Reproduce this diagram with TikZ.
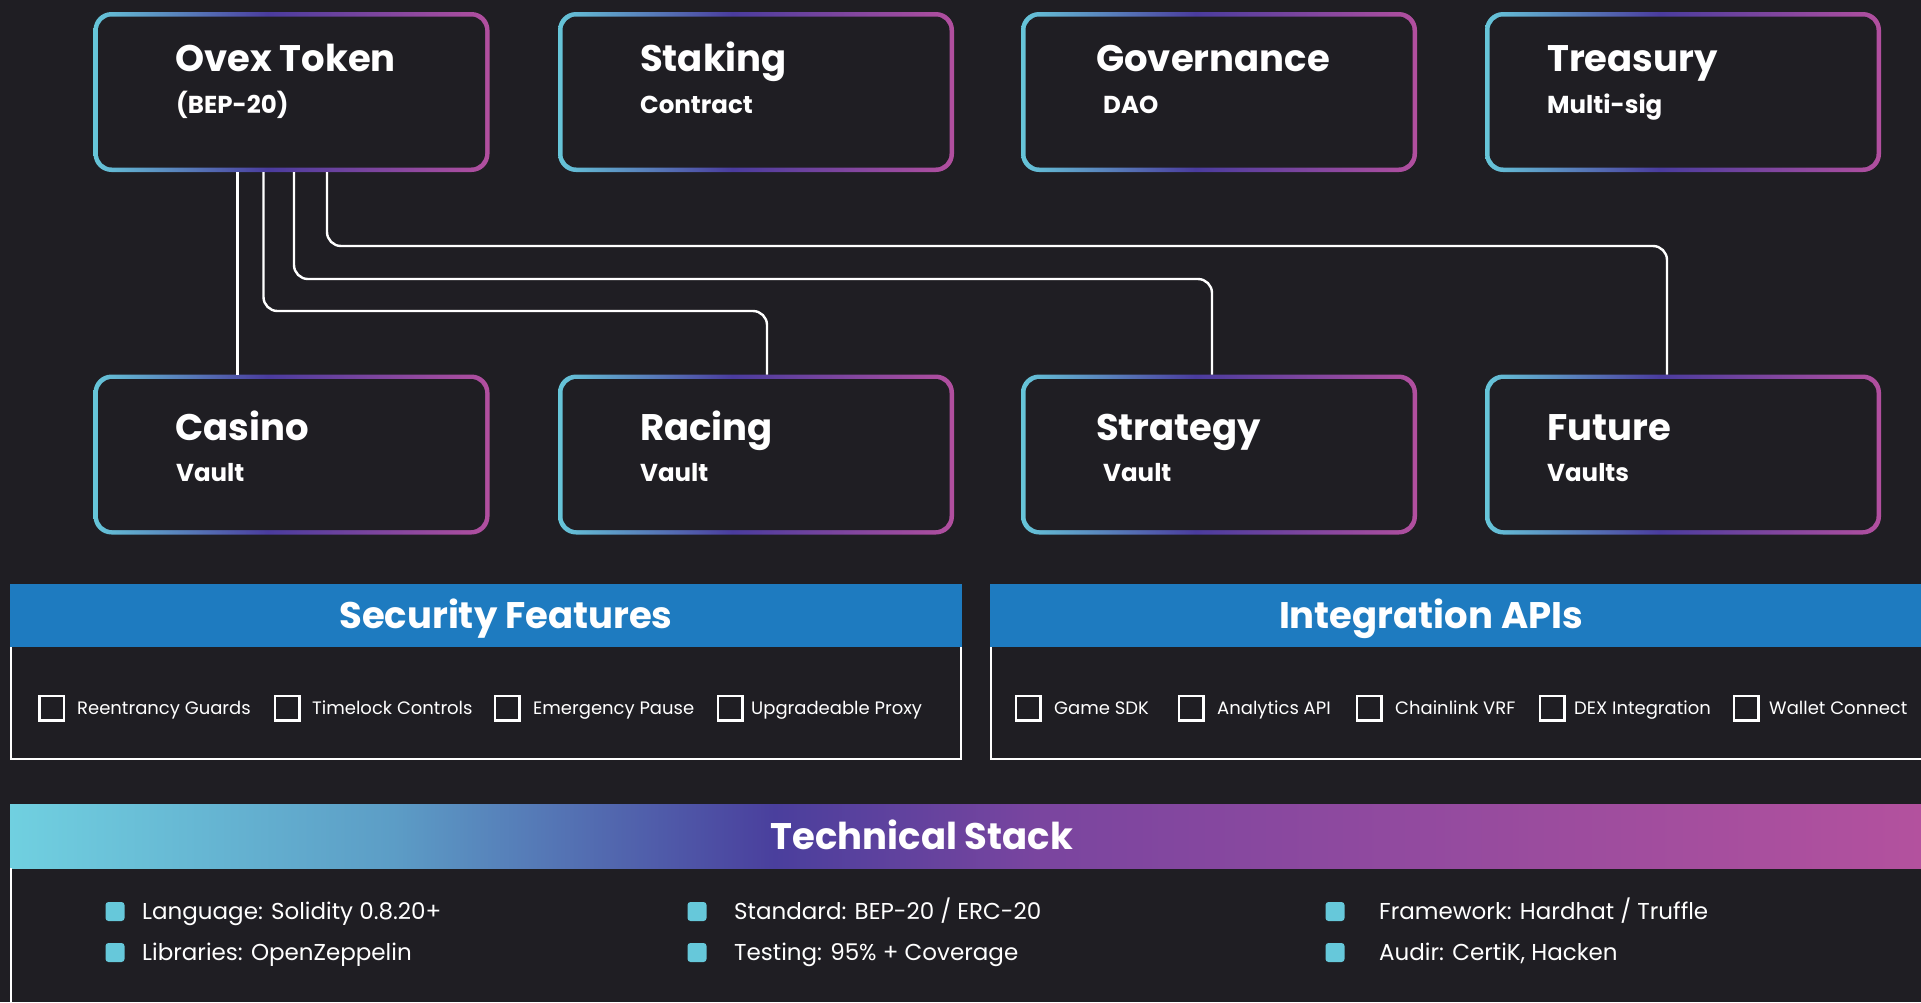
\documentclass[tikz,border=0pt]{standalone}
\usepackage{fontspec}
\setmainfont{Poppins}
\usetikzlibrary{positioning,calc}
\definecolor{bgdark}{HTML}{1F1E23}
\definecolor{rimcyan}{HTML}{66C6D9}
\definecolor{rimindigo}{HTML}{4A3C9E}
\definecolor{rimpink}{HTML}{B24F9F}
\definecolor{hdrblue}{HTML}{1E7BC0}
\definecolor{dotcyan}{HTML}{66C8DA}
\definecolor{stA}{HTML}{70D0E0}
\definecolor{stB}{HTML}{5C9DC6}
\definecolor{stC}{HTML}{4A3F9D}
\definecolor{stD}{HTML}{7A459F}
\definecolor{stE}{HTML}{B3519E}
\pgfdeclarehorizontalshading{rimfade}{100bp}{color(0bp)=(rimcyan); color(25bp)=(rimcyan); color(47bp)=(rimindigo); color(75bp)=(rimpink); color(100bp)=(rimpink)}
\pgfdeclarehorizontalshading{stackfade}{100bp}{color(0bp)=(stA); color(25bp)=(stA); color(35bp)=(stB); color(45bp)=(stC); color(52bp)=(stD); color(75bp)=(stE); color(100bp)=(stE)}
\tikzset{>=latex}

\begin{document}
\begin{tikzpicture}[x=1pt,y=-1pt,
  vbox/.style={rectangle, rounded corners=18pt, minimum width=396pt, minimum height=160pt, inner sep=0pt, outer sep=0pt,
    path picture={\shade[shading=rimfade] (path picture bounding box.south west) rectangle (path picture bounding box.north east);
      \fill[bgdark, rounded corners=14pt] ([shift={(4.5pt,4.5pt)}]path picture bounding box.south west) rectangle ([shift={(-4.5pt,-4.5pt)}]path picture bounding box.north east);}},
  ttl/.style={anchor=base west, text=white, font=\fontsize{37}{41}\selectfont\bfseries, inner sep=0pt},
  sub/.style={anchor=base west, text=white, font=\fontsize{24.5}{28}\selectfont\bfseries, inner sep=0pt},
  link/.style={draw=white, line width=2.4pt, rounded corners=14pt},
  hdr/.style={fill=hdrblue, inner sep=0pt, outer sep=0pt, minimum height=63pt},
  hdtxt/.style={text=white, font=\fontsize{37}{41}\selectfont\bfseries, inner sep=0pt},
  chk/.style={draw=white, line width=2.5pt, minimum size=24.5pt, inner sep=0pt},
  itm/.style={anchor=base west, text=white, font=\fontsize{18}{22}\selectfont, inner sep=0pt},
  bullet/.style={fill=dotcyan, rounded corners=3pt, minimum size=19pt, inner sep=0pt},
  stk/.style={anchor=base west, text=white, font=\fontsize{23}{27}\selectfont, inner sep=0pt},
  bodyline/.style={draw=white, line width=2pt}]
  \fill[bgdark] (0,0) rectangle (1921,1002);
  \useasboundingbox (0,0) rectangle (1921,1002);

  % contract boxes
  \node[vbox] (tok) at (291.5,92) {};
  \node[vbox] (stak) at (756,92) {};
  \node[vbox] (gov) at (1219,92) {};
  \node[vbox] (tre) at (1683,92) {};
  \node[vbox] (cas) at (291.5,454.5) {};
  \node[vbox] (rac) at (756,454.5) {};
  \node[vbox] (stra) at (1219,454.5) {};
  \node[vbox] (fut) at (1683,454.5) {};

  \node[ttl] (tok-t) at (175,71.7) {Ovex Token};
  \node[sub] (tok-s) at (176,113) {(BEP-20)};
  \node[ttl] (stak-t) at (640,71.7) {Staking};
  \node[sub] (stak-s) at (640,113) {Contract};
  \node[ttl] (gov-t) at (1096,71.7) {Governance};
  \node[sub] (gov-s) at (1103,113) {DAO};
  \node[ttl] (tre-t) at (1547,71.7) {Treasury};
  \node[sub] (tre-s) at (1547,113) {Multi-sig};
  \node[ttl] (cas-t) at (175,440) {Casino};
  \node[sub] (cas-s) at (176,481) {Vault};
  \node[ttl] (rac-t) at (640,440) {Racing};
  \node[sub] (rac-s) at (640,481) {Vault};
  \node[ttl] (stra-t) at (1096,440) {Strategy};
  \node[sub] (stra-s) at (1103,481) {Vault};
  \node[ttl] (fut-t) at (1547,440) {Future};
  \node[sub] (fut-s) at (1547,481) {Vaults};

  % token to vaults
  \draw[link] ([xshift=-54pt]tok.south) -- ([xshift=-54pt]cas.north);
  \draw[link] ([xshift=-28pt]tok.south) -- ++(0,139) -| ([xshift=11pt]rac.north);
  \draw[link] ([xshift=2.5pt]tok.south) -- ++(0,107) -| ([xshift=-7pt]stra.north);
  \draw[link] ([xshift=35.5pt]tok.south) -- ++(0,74) -| ([xshift=-16pt]fut.north);

  % security features
  \node[hdr, minimum width=952pt] (sechd) at (486,615.5) {};
  \node[hdtxt] (sec-t) at (506,619) {Security Features};
  \draw[bodyline] ([xshift=1pt]sechd.south west) -- ++(0,112) -| ([xshift=-1pt]sechd.south east);
  \foreach \bx/\tx/\lbl [count=\i] in {51.5/77/Reentrancy Guards, 287/312/Timelock Controls, 507/533/Emergency Pause, 730/751/Upgradeable Proxy}{
    \node[chk] (sc\i) at (\bx,708) {};
    \node[itm] (sct\i) at (\tx,714) {\lbl};
  }

  % integration apis
  \node[hdr, minimum width=931pt] (inthd) at (1455.5,615.5) {};
  \node[hdtxt] (int-t) at (1431,619) {Integration APIs};
  \draw[bodyline] ([xshift=1pt]inthd.south west) -- ++(0,112) -- ++(930,0);
  \foreach \bx/\tx/\lbl [count=\i] in {1028/1054/Game SDK, 1191/1217/Analytics API, 1369/1395/Chainlink VRF, 1552/1574/DEX Integration, 1746/1769/Wallet Connect}{
    \node[chk] (ic\i) at (\bx,708) {};
    \node[itm] (ict\i) at (\tx,714) {\lbl};
  }

  % technical stack
  \node[inner sep=0pt, outer sep=0pt, minimum width=1911pt, minimum height=64pt, shading=stackfade, shade] (tchd) at (965.5,836) {};
  \node[hdtxt] (tch-t) at (922,835) {Technical Stack};
  \draw[bodyline] ([xshift=1pt]tchd.south west) -- ++(0,140);
  \foreach \bx/\tx/\yy/\lbl [count=\i] in {115/142/919/{Language: Solidity 0.8.20+}, 115/142/960/{Libraries: OpenZeppelin},
      697/734/919/{Standard: BEP-20 / ERC-20}, 697/734/960/{Testing: 95\% + Coverage},
      1335/1379/919/{Framework: Hardhat / Truffle}, 1335/1379/960/{Audir: CertiK, Hacken}}{
    \node[bullet] (bl\i) at (\bx,\yy-7.5) {};
    \node[stk] (blt\i) at (\tx,\yy) {\lbl};
  }
\end{tikzpicture}
\end{document}
